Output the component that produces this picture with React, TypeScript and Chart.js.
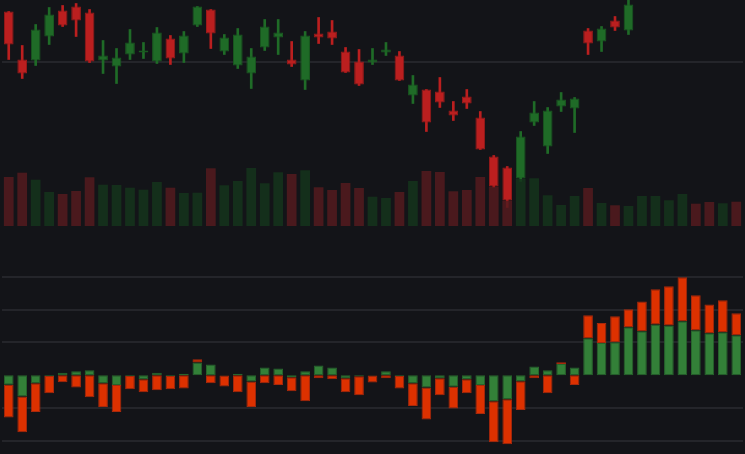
import React, { useEffect, useRef } from 'react';
import { Chart, registerables } from 'chart.js';

Chart.register(...registerables);

// trading days (axis hidden in the picture)
const dates = [
  '01-02', '01-03', '01-04', '01-05', '01-08', '01-09', '01-10', '01-11', '01-12', '01-15',
  '01-16', '01-17', '01-18', '01-19', '01-22', '01-23', '01-24', '01-25', '01-26', '01-29',
  '01-30', '01-31', '02-01', '02-02', '02-05', '02-06', '02-07', '02-08', '02-09', '02-12',
  '02-13', '02-14', '02-15', '02-16', '02-19', '02-20', '02-21', '02-22', '02-23', '02-26',
  '02-27', '02-28', '02-29', '03-01', '03-04', '03-05', '03-06', '03-07', '03-08', '03-11',
  '03-12', '03-13', '03-14', '03-15', '03-18',
];

const opens = [
  13.50, 13.02, 13.01, 13.25, 13.51, 13.55, 13.49, 13.01, 12.95, 13.07,
  13.09, 13.00, 13.23, 13.08, 13.36, 13.52, 13.10, 12.96, 12.88, 13.14,
  13.24, 13.02, 12.81, 13.28, 13.30, 13.10, 13.00, 12.99, 13.09, 13.06,
  12.66, 12.72, 12.70, 12.51, 12.65, 12.44, 12.05, 11.94, 11.83, 12.39,
  12.15, 12.55, 12.53, 13.31, 13.20, 13.41, 13.31, 13.66, 13.79, 13.92,
  14.04, 14.20, 14.09, 13.95, 14.07,
];
const highs = [
  13.50, 13.16, 13.37, 13.54, 13.56, 13.58, 13.52, 13.21, 13.13, 13.32,
  13.19, 13.34, 13.26, 13.30, 13.55, 13.52, 13.27, 13.33, 13.13, 13.42,
  13.42, 13.20, 13.30, 13.44, 13.41, 13.14, 13.12, 13.13, 13.19, 13.10,
  12.86, 12.72, 12.84, 12.60, 12.72, 12.50, 12.06, 11.95, 12.30, 12.60,
  12.54, 12.69, 12.64, 13.33, 13.35, 13.45, 13.66, 13.84, 13.98, 14.10,
  14.26, 14.28, 14.15, 14.12, 14.13,
];
const lows = [
  13.02, 12.83, 12.96, 13.17, 13.35, 13.25, 12.99, 12.88, 12.78, 13.02,
  13.03, 12.98, 12.97, 12.99, 13.35, 13.13, 13.07, 12.93, 12.73, 13.11,
  13.07, 12.95, 12.72, 13.18, 13.17, 12.89, 12.76, 12.97, 13.06, 12.81,
  12.58, 12.30, 12.54, 12.41, 12.53, 12.12, 11.74, 11.54, 11.80, 12.36,
  12.08, 12.50, 12.29, 13.07, 13.10, 13.31, 13.27, 13.64, 13.75, 13.88,
  14.00, 14.02, 13.90, 13.91, 13.92,
];
const closes = [
  13.17, 12.88, 13.32, 13.47, 13.36, 13.41, 13.00, 13.06, 13.04, 13.19,
  13.11, 13.29, 13.03, 13.26, 13.55, 13.28, 13.24, 13.27, 13.05, 13.35,
  13.29, 12.97, 13.26, 13.24, 13.23, 12.89, 12.77, 13.02, 13.12, 12.81,
  12.77, 12.39, 12.59, 12.46, 12.58, 12.12, 11.75, 11.61, 12.25, 12.49,
  12.51, 12.62, 12.63, 13.18, 13.33, 13.34, 13.57, 13.80, 13.93, 14.05,
  14.21, 14.08, 13.96, 14.06, 13.98,
];
const volumes = [
  4900, 5330, 4630, 3400, 3200, 3500, 4870, 4130, 4100, 3830,
  3630, 4400, 3830, 3300, 3330, 5770, 4070, 4500, 5800, 4270,
  5370, 5200, 5570, 3870, 3600, 4300, 3800, 2930, 2800, 3400,
  4500, 5500, 5400, 3470, 3600, 4900, 3930, 2530, 4700, 4770,
  3070, 2100, 3000, 3800, 2300, 2070, 2000, 3000, 3000, 2570,
  3200, 2230, 2400, 2270, 2430,
];

// lower panel: two stacked flows
const flowGreen = [
  -2.9, -6.5, -2.4, -0.2, 0.8, 1.2, 1.5, -2.4, -3.0, -0.2,
  -1.2, 0.8, -0.2, 0.5, 3.9, 3.3, -0.1, 0.5, -1.9, 2.4,
  2.1, -0.6, 1.2, 3.0, 2.4, -0.9, -0.3, -0.1, 1.2, -0.2,
  -2.4, -3.7, -0.9, -3.5, -1.2, -3.0, -7.9, -7.3, -1.8, 2.7,
  1.5, 3.4, 2.4, 11.3, 9.8, 10.1, 14.6, 13.4, 15.5, 15.2,
  16.5, 13.7, 12.8, 13.1, 12.2,
];
const flowRed = [
  -10.0, -10.9, -8.8, -5.3, -2.1, -3.7, -6.7, -7.3, -8.2, -4.1,
  -4.0, -4.6, -4.1, -4.0, 1.0, -2.4, -3.3, -5.2, -7.8, -2.4,
  -3.0, -4.3, -7.9, -0.9, -1.2, -4.3, -5.8, -2.1, -0.9, -3.8,
  -7.0, -9.8, -5.2, -6.6, -4.3, -8.8, -12.5, -13.7, -8.8, -0.9,
  -5.5, 0.6, -3.0, 7.0, 6.1, 7.9, 5.5, 9.1, 10.7, 11.9,
  13.4, 10.7, 8.8, 9.8, 6.7,
];

const priceLines = [13];
// no line at zero in the picture
const flowTicks = [-20, -10, 10, 20, 30];

const BG = '#131418';
const GRID = '#24252a';
const UP = '#1f6b27';
const UP_EDGE = '#195a20';
const DOWN = '#bb1f1f';
const DOWN_EDGE = '#9c1a1a';
const VOL_UP = 'rgba(21, 52, 28, 0.86)';
const VOL_DOWN = 'rgba(84, 27, 30, 0.86)';

export default function App() {
  const topRef = useRef<HTMLCanvasElement | null>(null);
  const bottomRef = useRef<HTMLCanvasElement | null>(null);

  useEffect(() => {
    if (!topRef.current || !bottomRef.current) return;

    const isUp = opens.map((o, i) => closes[i] >= o);

    const topChart = new Chart(topRef.current, {
      type: 'bar',
      data: {
        labels: dates,
        datasets: [
          {
            // volume sits on top of the candles
            label: 'Volume',
            data: volumes,
            yAxisID: 'vol',
            order: 0,
            grouped: false,
            backgroundColor: isUp.map(u => (u ? VOL_UP : VOL_DOWN)),
            categoryPercentage: 0.9,
            barPercentage: 0.8,
          },
          {
            label: 'Body',
            data: opens.map((o, i) => [o, closes[i]]),
            yAxisID: 'price',
            order: 1,
            grouped: false,
            backgroundColor: isUp.map(u => (u ? UP : DOWN)),
            borderColor: isUp.map(u => (u ? UP_EDGE : DOWN_EDGE)),
            borderWidth: 1,
            borderSkipped: false,
            minBarLength: 2,
            categoryPercentage: 0.9,
            barPercentage: 0.8,
          },
          {
            label: 'Wick',
            data: lows.map((l, i) => [l, highs[i]]),
            yAxisID: 'price',
            order: 2,
            grouped: false,
            backgroundColor: isUp.map(u => (u ? UP : DOWN)),
            barThickness: 2,
          },
        ] as any,
      },
      options: {
        responsive: true,
        maintainAspectRatio: false,
        animation: false,
        events: [],
        layout: { padding: { left: 2, right: 2, top: 0, bottom: 0 } },
        plugins: { legend: { display: false }, tooltip: { enabled: false } },
        scales: {
          x: { display: false },
          price: {
            position: 'left',
            min: 11.355,
            max: 13.615,
            ticks: { display: false },
            border: { display: false },
            grid: { color: GRID, lineWidth: 2, drawTicks: false },
            afterBuildTicks: (axis: any) => {
              axis.ticks = priceLines.map(v => ({ value: v }));
            },
          },
          vol: {
            display: false,
            min: 0,
            max: 22600,
          },
        },
      } as any,
    });

    const bottomChart = new Chart(bottomRef.current, {
      type: 'bar',
      data: {
        labels: dates,
        datasets: [
          {
            label: 'Green',
            data: flowGreen,
            backgroundColor: '#338038',
            borderColor: '#27652c',
            borderWidth: 1,
            borderSkipped: false,
            categoryPercentage: 0.9,
            barPercentage: 0.8,
          },
          {
            label: 'Red',
            data: flowRed,
            backgroundColor: '#dd3100',
            borderColor: '#a8290c',
            borderWidth: 1,
            borderSkipped: false,
            categoryPercentage: 0.9,
            barPercentage: 0.8,
          },
        ],
      },
      options: {
        responsive: true,
        maintainAspectRatio: false,
        animation: false,
        events: [],
        layout: { padding: { left: 2, right: 2, top: 0, bottom: 0 } },
        plugins: { legend: { display: false }, tooltip: { enabled: false } },
        scales: {
          x: { display: false, stacked: true },
          y: {
            stacked: true,
            min: -24.0,
            max: 45.5,
            ticks: { display: false },
            border: { display: false },
            grid: { color: GRID, lineWidth: 2, drawTicks: false },
            afterBuildTicks: (axis: any) => {
              axis.ticks = flowTicks.map(v => ({ value: v }));
            },
          },
        },
      } as any,
    });

    return () => {
      topChart.destroy();
      bottomChart.destroy();
    };
  }, []);

  return (
    <div style={{ position: 'fixed', left: 0, top: 0, width: 745, height: 454, background: BG, overflow: 'hidden' }}>
      <div style={{ position: 'relative', width: 745, height: 226 }}>
        <canvas ref={topRef} />
      </div>
      <div style={{ position: 'relative', width: 745, height: 228 }}>
        <canvas ref={bottomRef} />
      </div>
    </div>
  );
}
